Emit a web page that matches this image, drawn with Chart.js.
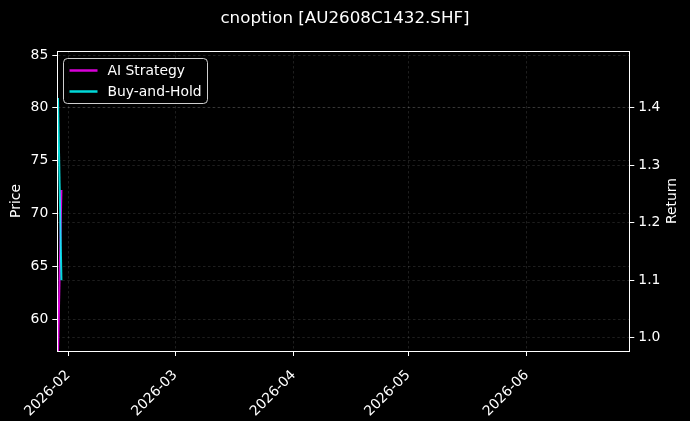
<!DOCTYPE html>
<html>
<head>
<meta charset="utf-8">
<script src="https://cdn.jsdelivr.net/npm/chart.js@4.4.1/dist/chart.umd.min.js"></script>
<style>
  html, body { margin: 0; padding: 0; background: #000; }
  #wrap { width: 690px; height: 421px; position: relative; }
</style>
</head>
<body>
<div id="wrap"><canvas id="chart"></canvas></div>
<script>
// x values are days counted from 2026-01-01
const sampleDays = [28.3, 29.2];
const aiStrategy = [0.972, 1.257];
const buyAndHold = [1.417, 1.10];

const monthDays = [31, 59, 90, 120, 151];
const monthLabels = ["2026-02", "2026-03", "2026-04", "2026-05", "2026-06"];
const priceTicks = [60, 65, 70, 75, 80, 85];
const returnTicks = [1.0, 1.1, 1.2, 1.3, 1.4];

const FONT = "DejaVu Sans";
const gridColor = "rgba(255,255,255,0.2)";

// legend box inside the plot, top-left
const insideLegend = {
  id: "insideLegend",
  afterDatasetsDraw(chart) {
    const { ctx, chartArea } = chart;
    const x = Math.round(chartArea.left) + 6.5, y = Math.round(chartArea.top) + 7.5;
    const w = 144, h = 45;
    ctx.save();
    ctx.beginPath();
    ctx.roundRect(x, y, w, h, 4);
    ctx.fillStyle = "rgba(0,0,0,0.8)";
    ctx.fill();
    ctx.strokeStyle = "rgba(230,230,230,0.9)";
    ctx.lineWidth = 1;
    ctx.stroke();
    ctx.font = "13.9px '" + FONT + "'";
    ctx.textBaseline = "middle";
    chart.data.datasets.forEach((ds, i) => {
      const cy = y + 12 + i * 21;
      ctx.strokeStyle = ds.borderColor;
      ctx.lineWidth = 2.5;
      ctx.beginPath();
      ctx.moveTo(x + 6, cy);
      ctx.lineTo(x + 34, cy);
      ctx.stroke();
      ctx.fillStyle = "#fff";
      ctx.fillText(ds.label, x + 44, cy + 1);
    });
    ctx.restore();
  },
  afterDraw(chart) {
    const { ctx, chartArea } = chart;
    ctx.save();
    // frame around plot
    ctx.strokeStyle = "#fff";
    ctx.lineWidth = 1;
    ctx.strokeRect(Math.round(chartArea.left) + 0.5, Math.round(chartArea.top) + 0.5,
      Math.round(chartArea.width), Math.round(chartArea.height));
    // right axis title reads bottom-to-top
    ctx.translate(672, (chartArea.top + chartArea.bottom) / 2);
    ctx.rotate(-Math.PI / 2);
    ctx.fillStyle = "#fff";
    ctx.font = "13.9px '" + FONT + "'";
    ctx.textAlign = "center";
    ctx.textBaseline = "middle";
    ctx.fillText("Return", 0, 0);
    ctx.restore();
  }
};

new Chart(document.getElementById("chart"), {
  type: "line",
  data: {
    datasets: [
      {
        label: "AI Strategy",
        data: sampleDays.map((d, i) => ({ x: d, y: aiStrategy[i] })),
        borderColor: "rgba(255,0,255,0.85)",
        borderWidth: 2,
        pointRadius: 0,
        order: 2,
        yAxisID: "yRet"
      },
      {
        label: "Buy-and-Hold",
        data: sampleDays.map((d, i) => ({ x: d, y: buyAndHold[i] })),
        borderColor: "rgba(0,255,255,0.85)",
        borderWidth: 2,
        pointRadius: 0,
        order: 1,
        yAxisID: "yRet"
      }
    ]
  },
  options: {
    responsive: true,
    maintainAspectRatio: false,
    animation: false,
    layout: { padding: 0 },
    plugins: {
      legend: { display: false },
      tooltip: { enabled: false },
      title: {
        display: true,
        text: "cnoption [AU2608C1432.SHF]",
        color: "#fff",
        font: { family: FONT, size: 16.7, weight: "normal" },
        padding: { top: 9, bottom: 22 }
      }
    },
    scales: {
      x: {
        type: "linear",
        min: 28.12,
        max: 177.86,
        afterBuildTicks: (axis) => { axis.ticks = monthDays.map(v => ({ value: v })); },
        afterFit: (axis) => { axis.height = 70; },
        ticks: {
          color: "#fff",
          font: { family: FONT, size: 13.9 },
          minRotation: 45,
          maxRotation: 45,
          padding: 11,
          callback: (v) => monthLabels[monthDays.indexOf(v)]
        },
        grid: { color: gridColor, lineWidth: 0.6, tickColor: "#fff", tickLength: 5, tickWidth: 1 },
        border: { color: "#fff", width: 1, dash: [2.5, 2.5] }
      },
      yPrice: {
        position: "left",
        min: 56.97,
        max: 85.38,
        afterBuildTicks: (axis) => { axis.ticks = priceTicks.map(v => ({ value: v })); },
        afterFit: (axis) => { axis.width = 57.3; },
        title: {
          display: true,
          text: "Price",
          color: "#fff",
          font: { family: FONT, size: 13.9 },
          padding: { top: 8, bottom: 0 }
        },
        ticks: {
          color: "#fff",
          font: { family: FONT, size: 13.9 },
          padding: 4,
          callback: (v) => String(v)
        },
        grid: { color: gridColor, lineWidth: 0.6, tickColor: "#fff", tickLength: 5, tickWidth: 1 },
        border: { color: "#fff", width: 1, dash: [2.5, 2.5] }
      },
      yRet: {
        position: "right",
        min: 0.977,
        max: 1.4986,
        afterBuildTicks: (axis) => { axis.ticks = returnTicks.map(v => ({ value: v })); },
        afterFit: (axis) => { axis.width = 60.7; },
        ticks: {
          color: "#fff",
          font: { family: FONT, size: 13.9 },
          padding: 4,
          callback: (v) => v.toFixed(1)
        },
        grid: { color: gridColor, lineWidth: 0.6, tickColor: "#fff", tickLength: 5, tickWidth: 1 },
        border: { color: "#fff", width: 1, dash: [2.5, 2.5] }
      }
    }
  },
  plugins: [insideLegend]
});
</script>
</body>
</html>
